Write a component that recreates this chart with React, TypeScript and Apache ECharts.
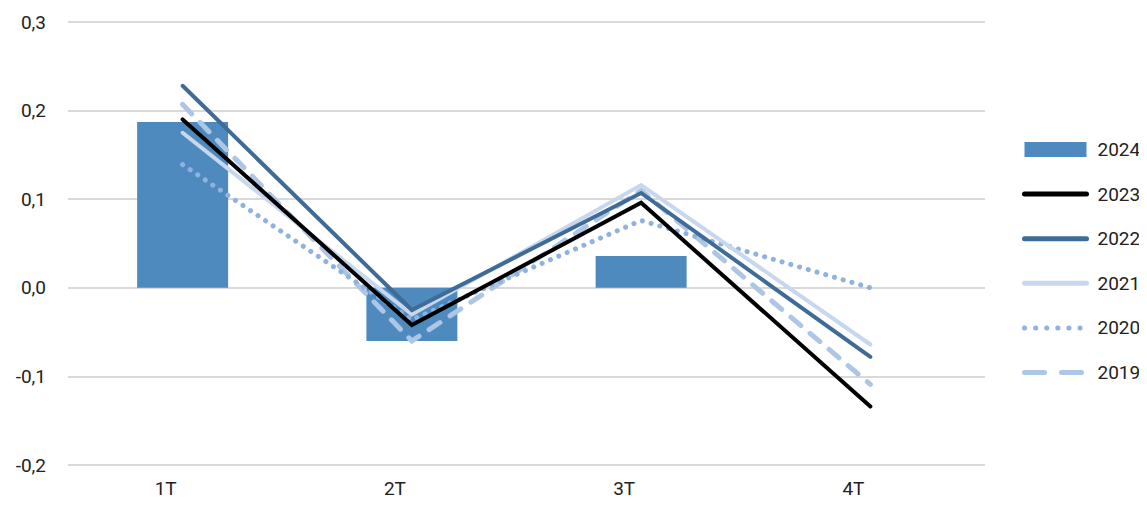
import React, { useEffect, useRef } from "react";
import * as echarts from "echarts";

const categories = ["1T", "2T", "3T", "4T"];
const yTicks = [-0.2, -0.1, 0, 0.1, 0.2, 0.3];
const s2024 = [0.187, -0.06, 0.036, null];
const s2023 = [0.19, -0.042, 0.096, -0.134];
const s2022 = [0.228, -0.025, 0.107, -0.078];
const s2021 = [0.175, -0.03, 0.116, -0.064];
const s2020 = [0.139, -0.036, 0.076, 0.0];
const s2019 = [0.207, -0.06, 0.11, -0.109];

export default function App() {
  const ref = useRef<HTMLDivElement>(null);
  useEffect(() => {
    const chart = echarts.init(ref.current!, undefined, { renderer: "svg" });
    const font = "Roboto";
    const line = (name: string, data: any[], color: string, type: any, width = 4, z = 3) => ({
      name,
      type: "line",
      data,
      symbol: "none",
      z,
      lineStyle: { color, width, type, cap: "round", join: "miter" },
      itemStyle: { color },
    });
    const hide = { opacity: 0 };
    chart.setOption({
      animation: false,
      grid: { left: 68, right: 162, top: 22, bottom: 46 },
      xAxis: {
        type: "category",
        data: categories,
        axisLine: { show: false },
        axisTick: { show: false },
        axisLabel: {
          color: "#222",
          fontSize: 19,
          fontFamily: font,
          margin: 14,
          padding: [0, 34, 0, 0],
        },
      },
      yAxis: {
        type: "value",
        min: yTicks[0],
        max: yTicks[yTicks.length - 1],
        interval: 0.1,
        axisLine: { show: false },
        axisTick: { show: false },
        splitLine: { lineStyle: { color: "#d9d9d9", width: 2 } },
        axisLabel: {
          color: "#222",
          fontSize: 19,
          fontFamily: font,
          margin: 22,
          formatter: (v: number) => v.toFixed(1).replace(".", ","),
        },
      },
      legend: {
        orient: "vertical",
        left: 1017,
        top: 135,
        itemWidth: 62,
        itemHeight: 15,
        itemGap: 25.6,
        textStyle: { color: "#222", fontSize: 19, fontFamily: font, padding: [0, 0, 0, 6] },
        data: [
          { name: "2024", icon: "rect" },
          { name: "2023", itemStyle: hide, lineStyle: { width: 5, cap: "round" } },
          { name: "2022", itemStyle: hide, lineStyle: { width: 5, cap: "round" } },
          { name: "2021", itemStyle: hide, lineStyle: { width: 5, cap: "round" } },
          { name: "2020", itemStyle: hide, lineStyle: { width: 5, cap: "round", type: [0.1, 11] } },
          { name: "2019", itemStyle: hide, lineStyle: { width: 5, cap: "round", type: [20, 17] } },
        ],
      },
      series: [
        {
          name: "2024",
          type: "bar",
          data: s2024,
          barWidth: 91,
          itemStyle: { color: "#4f8abf" },
          z: 1,
        },
        line("2023", s2023, "#000000", "solid", 4, 6),
        line("2022", s2022, "#3e6b97", "solid", 4, 5),
        line("2021", s2021, "#c6d7ee", "solid", 4, 4),
        line("2020", s2020, "#8fb2df", [0.1, 9], 5, 3),
        line("2019", s2019, "#adc6e6", [13, 12], 5, 2),
      ],
    });
    return () => chart.dispose();
  }, []);
  return <div ref={ref} style={{ width: 1147, height: 511, margin: -8 }} />;
}
